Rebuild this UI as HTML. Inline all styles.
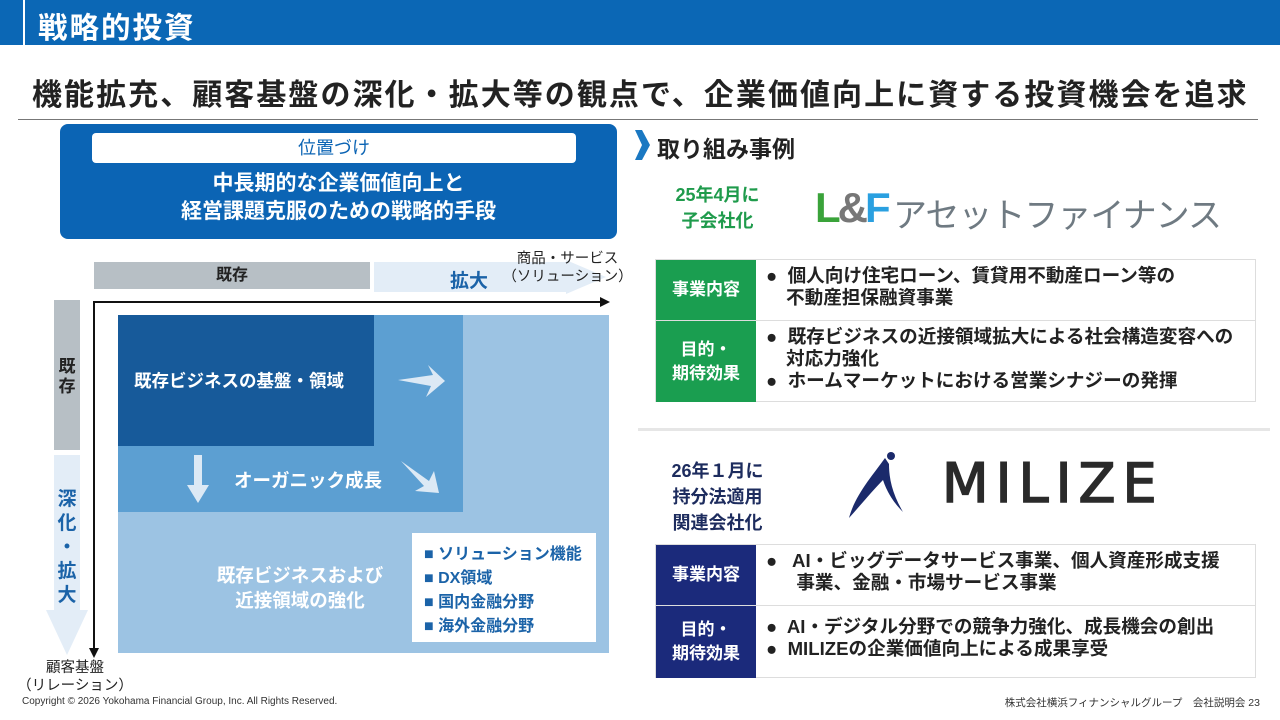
<!DOCTYPE html>
<html><head><meta charset="utf-8"><style>
*{margin:0;padding:0;box-sizing:border-box}
body{width:1280px;height:720px;position:relative;background:#fff;font-family:"Liberation Sans","Noto Sans CJK JP",sans-serif;overflow:hidden;color:#222}
.a{position:absolute}
.b{font-weight:bold}
.c{text-align:center}
.tbl{position:absolute;left:655px;width:601px;border:1px solid #ddd}
.row{display:flex;border-top:1px solid #ddd}
.row:first-child{border-top:none}
.h{width:100px;color:#fff;font-weight:bold;font-size:17px;display:flex;align-items:center;justify-content:center;text-align:center;line-height:24px}
.t{padding:5px 0 0 10px;font-size:18.6px;font-weight:bold;line-height:22px;color:#222;white-space:nowrap}
.t div{padding-left:20px;text-indent:-20px}
</style></head><body>
<div class="a" style="left:0;top:0;width:1280px;height:45px;background:#0b67b5"></div>
<div class="a" style="left:23px;top:0;width:2px;height:45px;background:#fff"></div>
<div class="a b" style="left:38px;top:5px;font-size:29.5px;letter-spacing:2px;color:#fff">戦略的投資</div>
<div class="a b" style="left:32px;top:70px;font-size:30px;letter-spacing:2.05px;color:#222;white-space:nowrap">機能拡充、顧客基盤の深化・拡大等の観点で、企業価値向上に資する投資機会を追求</div>
<div class="a" style="left:18px;top:119px;width:1240px;height:1px;background:#777"></div>

<div class="a" style="left:60px;top:124px;width:557px;height:115px;background:#0b64b4;border-radius:8px"></div>
<div class="a c" style="left:92px;top:133px;width:484px;height:30px;background:#fff;border-radius:4px;color:#0b64b4;font-size:18px;line-height:30px">位置づけ</div>
<div class="a b c" style="left:60px;top:170px;width:557px;font-size:21px;line-height:28px;color:#fff">中長期的な企業価値向上と<br>経営課題克服のための戦略的手段</div>

<!-- diagram -->
<div class="a b c" style="left:94px;top:262px;width:276px;height:27px;background:#b7bfc5;font-size:16px;line-height:27px">既存</div>
<svg class="a" style="left:374px;top:260px" width="235" height="40"><polygon points="0,2 192,2 192,0 232,17 192,34 192,32 0,32" fill="#e3edf7"/></svg>
<div class="a b" style="left:450px;top:266px;font-size:19px;color:#1b63a8">拡大</div>
<div class="a c" style="left:500px;top:250px;width:135px;font-size:14.5px;line-height:18px;color:#222;white-space:nowrap">商品・サービス<br>（ソリューション）</div>
<div class="a b" style="left:54px;top:300px;width:26px;height:150px;background:#b7bfc5"></div>
<div class="a b c" style="left:54px;top:357px;width:26px;font-size:17px;line-height:20px">既<br>存</div>
<svg class="a" style="left:44px;top:455px" width="46" height="205"><polygon points="10,0 36,0 36,155 44,155 23,200 2,155 10,155" fill="#e3edf7"/></svg>
<div class="a b c" style="left:52px;top:488px;width:30px;font-size:19px;line-height:24px;color:#1b63a8">深<br>化<br>・<br>拡<br>大</div>
<svg class="a" style="left:88px;top:295px" width="530" height="370">
<line x1="6" y1="7" x2="515" y2="7" stroke="#111" stroke-width="2"/><polygon points="522,7 512,2 512,12" fill="#111"/>
<line x1="6" y1="6" x2="6" y2="355" stroke="#111" stroke-width="2"/><polygon points="6,363 1,353 11,353" fill="#111"/>
</svg>
<div class="a" style="left:118px;top:315px;width:491px;height:338px;background:#9cc3e3"></div>
<div class="a" style="left:118px;top:315px;width:345px;height:197px;background:#5c9fd2"></div>
<div class="a" style="left:118px;top:315px;width:256px;height:131px;background:#175a9a"></div>
<div class="a b" style="left:134px;top:368px;font-size:17.5px;color:#fff;white-space:nowrap">既存ビジネスの基盤・領域</div>
<div class="a b" style="left:234px;top:467px;font-size:18.5px;color:#fff;white-space:nowrap">オーガニック成長</div>
<div class="a b c" style="left:190px;top:563px;width:220px;font-size:18.5px;line-height:25px;color:#fff;white-space:nowrap">既存ビジネスおよび<br>近接領域の強化</div>
<svg class="a" style="left:118px;top:315px" width="345" height="197">
<polygon points="280,65 315,60 310,50 327,66 308,82 313,71" fill="#dce9f5"/>
<polygon points="76,140 84,140 84,170 91,170 80,188 69,170 76,170" fill="#dce9f5"/>
<polygon points="283,146 311,166 316,156 321,178 297,176 306,171" fill="#dce9f5"/>
</svg>
<div class="a" style="left:412px;top:533px;width:184px;height:109px;background:#fff"></div>
<div class="a b" style="left:424px;top:543px;font-size:16px;line-height:24px;color:#1b63a8;white-space:nowrap">■ ソリューション機能<br>■ DX領域<br>■ 国内金融分野<br>■ 海外金融分野</div>
<div class="a c" style="left:15px;top:659px;width:120px;font-size:14.5px;line-height:18px;white-space:nowrap">顧客基盤<br>（リレーション）</div>

<!-- right -->
<svg class="a" style="left:635px;top:130px" width="16" height="32"><polygon points="0,0 7,0 15,15 7,30 0,30 7,15" fill="#1a78c2"/></svg>
<div class="a b" style="left:657px;top:130px;font-size:23px">取り組み事例</div>
<div class="a b c" style="left:655px;top:182px;width:125px;font-size:18px;line-height:26px;color:#1f9b4c">25年4月に<br>子会社化</div>
<div class="a b" style="left:815px;top:184px;font-size:42px;letter-spacing:-3px;font-family:'Liberation Sans',sans-serif"><span style="color:#3aa33a">L</span><span style="color:#777">&amp;</span><span style="color:#2aa0e0">F</span></div>
<div class="a" style="left:893px;top:188px;font-size:34px;color:#6f7a82;letter-spacing:-1px;white-space:nowrap">アセットファイナンス</div>
<div class="tbl" style="top:259px;height:143px">
<div class="row" style="height:60px"><div class="h" style="background:#1a9e50">事業内容</div><div class="t"><div>●&nbsp; 個人向け住宅ローン、賃貸用不動産ローン等の<br>不動産担保融資事業</div></div></div>
<div class="row" style="height:82px"><div class="h" style="background:#1a9e50">目的・<br>期待効果</div><div class="t"><div>●&nbsp; 既存ビジネスの近接領域拡大による社会構造変容への<br>対応力強化</div><div>●&nbsp; ホームマーケットにおける営業シナジーの発揮</div></div></div>
</div>
<div class="a" style="left:638px;top:428px;width:632px;height:3px;background:#e6e6e6"></div>
<div class="a b c" style="left:655px;top:458px;width:125px;font-size:18px;line-height:26px;color:#1d2c5e">26年１月に<br>持分法適用<br>関連会社化</div>
<svg class="a" style="left:845px;top:450px" width="60" height="72"><path d="M40,8 C28,25 10,45 4,68 C20,50 30,38 38,30 C42,42 48,52 58,62 C48,45 44,30 44,14 Z" fill="#1b2a6b"/><circle cx="46" cy="6" r="4" fill="#1b2a6b"/></svg>
<div class="a" style="left:942px;top:452px;font-size:54px;color:#2a2a2a;letter-spacing:7px;font-family:'DejaVu Sans',sans-serif;-webkit-text-stroke:1.5px #2a2a2a">MILIZE</div>
<div class="tbl" style="top:544px;height:134px">
<div class="row" style="height:60px"><div class="h" style="background:#1b2a7b">事業内容</div><div class="t"><div>●&nbsp;&nbsp; AI・ビッグデータサービス事業、個人資産形成支援<br>&nbsp;&nbsp;事業、金融・市場サービス事業</div></div></div>
<div class="row" style="height:73px"><div class="h" style="background:#1b2a7b">目的・<br>期待効果</div><div class="t" style="padding-top:10px"><div>●&nbsp; AI・デジタル分野での競争力強化、成長機会の創出</div><div>●&nbsp; MILIZEの企業価値向上による成果享受</div></div></div>
</div>
<div class="a" style="left:22px;top:696px;font-size:10px;color:#333">Copyright © 2026 Yokohama Financial Group, Inc. All Rights Reserved.</div>
<div class="a" style="right:20px;top:695px;font-size:10.5px;color:#333">株式会社横浜フィナンシャルグループ　会社説明会 23</div>
</body></html>
